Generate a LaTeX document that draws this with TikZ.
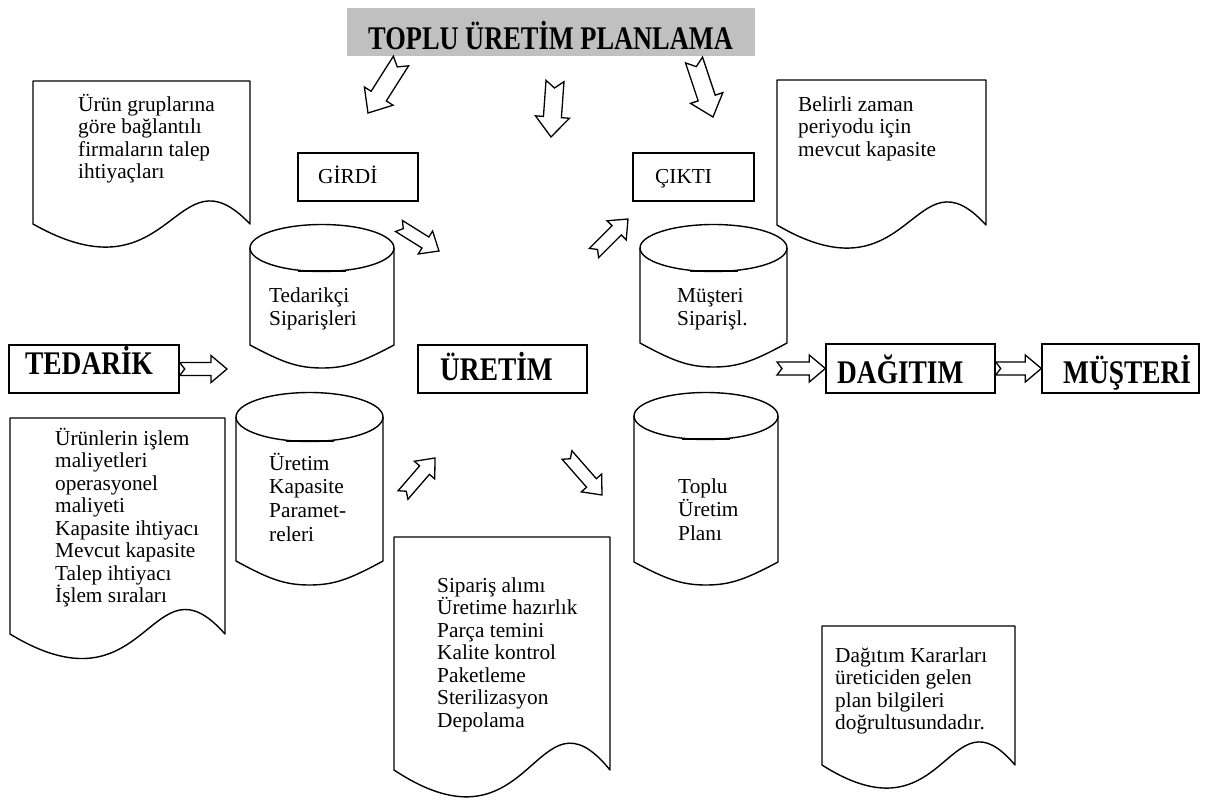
\documentclass[tikz,border=0pt]{standalone}
\usepackage{fontspec}
\setmainfont{Liberation Serif}
\newfontfamily\headfont{Liberation Serif}[FakeStretch=0.83]
\newfontfamily\bannerfont{Liberation Serif}[FakeStretch=0.80]
\usetikzlibrary{calc}
\definecolor{titlegray}{RGB}{192,192,192}
\tikzset{
  frame/.style={draw, line width=1.4pt, inner sep=0pt},
  plate/.style={fill=titlegray, inner sep=0pt},
  shapeline/.style={line width=1.4pt, line join=round},
  blockarrow/.style={draw, fill=white, line width=1.3pt, line join=miter},
  bodytxt/.style={font=\fontsize{21.3}{22.5}\selectfont, anchor=base west, align=flush left, text width=220pt, inner sep=0pt},
  cyltxt/.style={font=\fontsize{21.3}{23.7}\selectfont, anchor=base west, align=flush left, text width=120pt, inner sep=0pt},
  headtxt/.style={font=\headfont\bfseries\fontsize{33}{38}\selectfont, anchor=base west, inner sep=0pt},
  bannertxt/.style={font=\bannerfont\bfseries\fontsize{33}{38}\selectfont, anchor=base west, inner sep=0pt},
}
% hollow notched block arrow from #1 (tail) to #2 (tip)
% #3 body half width, #4 head half width, #5 head length, #6 notch depth
\newcommand\blockarrow[6]{%
  \draw[blockarrow]
    ($#1!#3pt!90:#2$)
    -- ($#2!#5pt!#1!#3pt!-90:#1$)
    -- ($#2!#5pt!#1!#4pt!-90:#1$)
    -- #2
    -- ($#2!#5pt!#1!#4pt!90:#1$)
    -- ($#2!#5pt!#1!#3pt!90:#1$)
    -- ($#1!#3pt!-90:#2$)
    -- ($#1!#6pt!#2$)
    -- cycle;}
\newcommand\bigarrow[2]{\blockarrow{#1}{#2}{9}{17}{20}{7}}
\newcommand\smallarrow[2]{\blockarrow{#1}{#2}{6.5}{13.5}{16}{5}}
% document sheet with wavy lower edge: left, top, right, wave mid line, wave control
\newcommand\docshape[5]{%
  \draw[shapeline] (#1,#2) -- (#3,#2) -- (#3,#4)
    .. controls ({#1+0.65*(#3-#1)},{#4-#5}) and ({#1+0.65*(#3-#1)},{#4+#5}) .. (#1,#4) -- cycle;}
% drum: left, right, lid centre y, lid half height, bottom corner y, bottom sag
\newcommand\drum[6]{%
  \draw[shapeline] (#1,#3) -- (#1,#5)
    .. controls ({#1+0.225*(#2-#1)},{#5+0.75*#6}) and ({#1+0.33*(#2-#1)},{#5+#6}) .. ({(#1+#2)/2},{#5+#6})
    .. controls ({#2-0.33*(#2-#1)},{#5+#6}) and ({#2-0.225*(#2-#1)},{#5+0.75*#6}) .. (#2,#5) -- (#2,#3);
  \draw[shapeline] ({(#1+#2)/2},#3) ellipse [x radius={(#2-#1)/2}, y radius=#4];
  \draw[line width=2.6pt] ({(#1+#2)/2-24},{#3+#4-0.5}) -- ++(48,0);}

\begin{document}
\begin{tikzpicture}[x=1pt,y=-1pt]
\useasboundingbox (0,0) rectangle (1208,800);

% title plate
\node[plate, minimum width=408pt, minimum height=48pt] (title) at (551,32) {};
\node[bannertxt] (titletxt) at (368,50) {TOPLU ÜRETİM PLANLAMA};

% boxes
\node[frame, minimum width=120pt, minimum height=48pt] (girdi) at (358,177) {};
\node[bodytxt] (girditxt) at (318,183) {GİRDİ};
\node[frame, minimum width=121pt, minimum height=48pt] (cikti) at (693.5,177) {};
\node[bodytxt] (ciktitxt) at (655,183) {ÇIKTI};
\node[frame, minimum width=170pt, minimum height=48pt] (ted) at (94,369) {};
\node[headtxt] (tedtxt) at (25,374) {TEDARİK};
\node[frame, minimum width=169pt, minimum height=48pt] (ure) at (502.5,369) {};
\node[headtxt] (uretxt) at (440,380) {ÜRETİM};
\node[frame, minimum width=169pt, minimum height=49pt] (dag) at (910.5,368.5) {};
\node[headtxt] (dagtxt) at (837,383) {DAĞITIM};
\node[frame, minimum width=157pt, minimum height=49pt] (mus) at (1120.5,368.5) {};
\node[headtxt] (mustxt) at (1063,383) {MÜŞTERİ};

% documents
\docshape{33}{81}{250}{224}{80}
\node[bodytxt] (d1) at (78,111) {Ürün gruplarına\\göre bağlantılı\\firmaların talep\\ihtiyaçları};
\docshape{777}{80}{986}{225}{80}
\node[bodytxt] (d3) at (798,111) {Belirli zaman\\periyodu için\\mevcut kapasite};
\docshape{10}{418}{225}{634}{85}
\node[bodytxt] (d2) at (55,445) {Ürünlerin işlem\\maliyetleri\\operasyonel\\maliyeti\\Kapasite ihtiyacı\\Mevcut kapasite\\Talep ihtiyacı\\İşlem sıraları};
\docshape{394}{537}{610}{770}{93}
\node[bodytxt] (d4) at (437,592) {Sipariş alımı\\Üretime hazırlık\\Parça temini\\Kalite kontrol\\Paketleme\\Sterilizasyon\\Depolama};
\docshape{822}{626}{1015}{765}{80}
\node[bodytxt] (d5) at (835,662) {Dağıtım Kararları\\üreticiden gelen\\plan bilgileri\\doğrultusundadır.};

% drums
\drum{250}{394}{248}{23.5}{345}{23}
\node[cyltxt] (c1) at (269,302) {Tedarikçi\\Siparişleri};
\drum{640}{787}{248}{23.5}{343}{24}
\node[cyltxt] (c2) at (677,302) {Müşteri\\Siparişl.};
\drum{236}{383}{417}{24.5}{561}{24}
\node[cyltxt] (c3) at (269,470) {Üretim\\Kapasite\\Paramet-\\releri};
\drum{634}{778}{416}{23.5}{562}{23}
\node[cyltxt] (c4) at (678,493) {Toplu\\Üretim\\Planı};

% arrows
\coordinate (a1s) at (401,61);  \coordinate (a1e) at (368,113);
\coordinate (a2s) at (555,81);  \coordinate (a2e) at (551,137);
\coordinate (a3s) at (694,60);  \coordinate (a3e) at (713,117);
\coordinate (a4s) at (399,226); \coordinate (a4e) at (439,251);
\coordinate (a5s) at (594,253); \coordinate (a5e) at (628,219);
\coordinate (a6e) at (227,369);
\coordinate (a7s) at (777,368.5);
\coordinate (a9s) at (403,495); \coordinate (a9e) at (435,458);
\coordinate (a10s) at (567,455); \coordinate (a10e) at (602,495);

\bigarrow{(a1s)}{(a1e)}
\bigarrow{(a2s)}{(a2e)}
\bigarrow{(a3s)}{(a3e)}
\smallarrow{(a4s)}{(a4e)}
\smallarrow{(a5s)}{(a5e)}
\smallarrow{(ted.east)}{(a6e)}
\smallarrow{(a7s)}{(dag.west)}
\smallarrow{(dag.east)}{(mus.west)}
\smallarrow{(a9s)}{(a9e)}
\smallarrow{(a10s)}{(a10e)}
\end{tikzpicture}
\end{document}
